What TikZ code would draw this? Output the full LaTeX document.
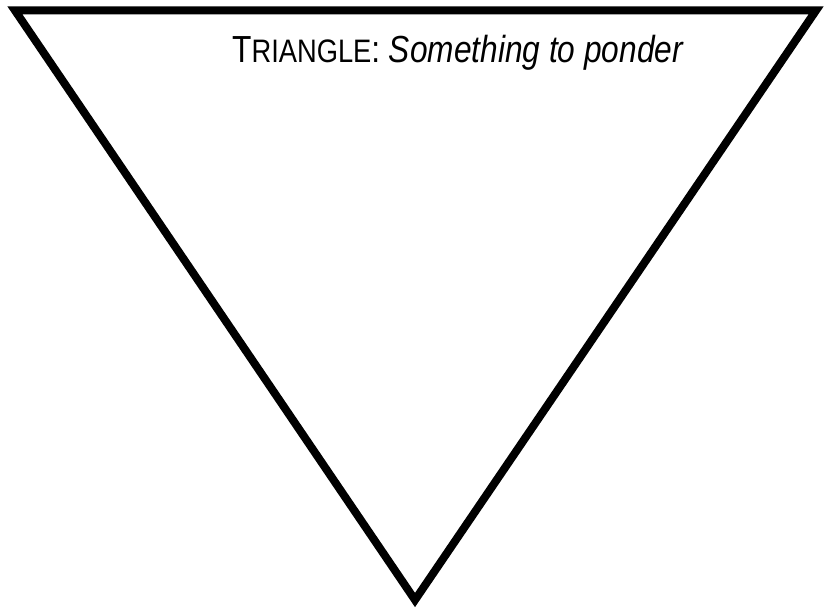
\documentclass[tikz,border=0pt]{standalone}
\usepackage{fontspec}
\setmainfont{Liberation Sans}[FakeStretch=0.84]
\begin{document}
\begin{tikzpicture}[x=1pt,y=1pt,
  tri/.style={draw=black,line width=8pt,line join=miter,fill=white},
  lbl/.style={anchor=base west,inner sep=0pt,font=\fontsize{37.7}{40}\selectfont}]
\useasboundingbox (0,0) rectangle (829,613);
\coordinate (tl) at (15,602.5);
\coordinate (tr) at (816,602.5);
\coordinate (bt) at (415,13);
\draw[tri] (tl) -- (tr) -- (bt) -- cycle;
\node[lbl] (title) at (232,550) {T{\fontsize{32.5}{34}\selectfont RIANGLE}: \itshape Something to ponder};
\end{tikzpicture}
\end{document}
